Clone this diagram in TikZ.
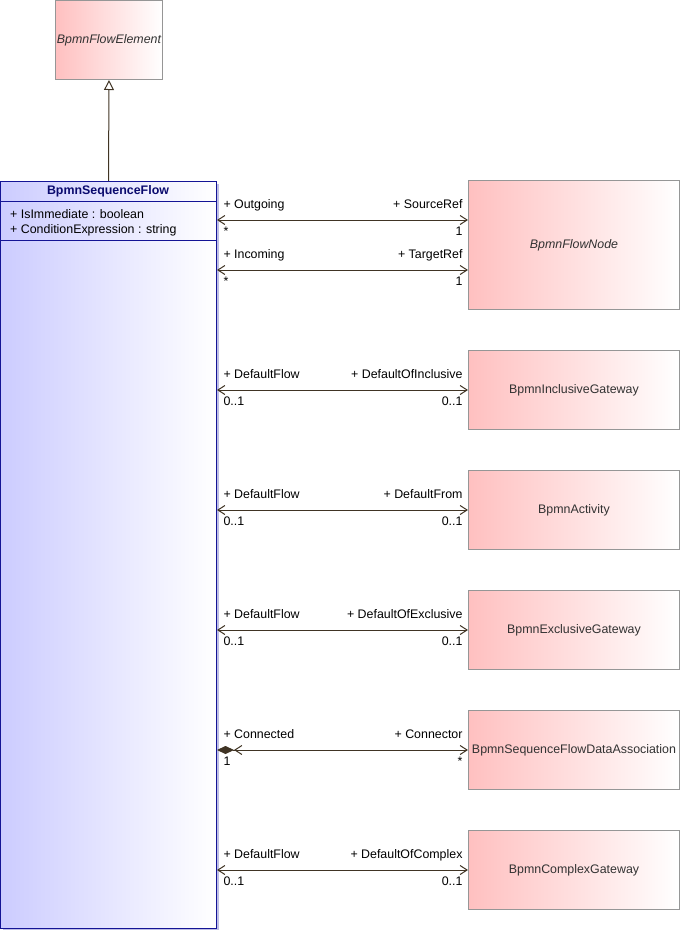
\documentclass[tikz,border=0pt]{standalone}
\usepackage{fontspec}
\setmainfont{Liberation Sans}
\usetikzlibrary{arrows.meta,calc}
\definecolor{pinkL}{RGB}{255,192,192}
\definecolor{blueL}{RGB}{204,204,255}
\definecolor{navyB}{RGB}{20,20,150}
\definecolor{grayB}{RGB}{150,150,150}
\definecolor{lineC}{RGB}{64,52,36}
\definecolor{titleC}{RGB}{10,10,110}
\definecolor{shadowC}{RGB}{190,190,230}
\definecolor{nameC}{RGB}{50,50,50}
\newcommand\assocline[6]{%
  \draw[assoc] (seq.east |- 0,#1) -- (#2.west |- 0,#1)
    node[lbl, pos=0, anchor=base west, xshift=6pt, yshift=11.5pt] {#3}
    node[lbl, pos=0, anchor=base west, xshift=6pt, yshift=-15.5pt] {#4}
    node[lbl, pos=1, anchor=base east, xshift=-5pt, yshift=11.5pt] {#5}
    node[lbl, pos=1, anchor=base east, xshift=-5pt, yshift=-15.5pt] {#6};}
\begin{document}
\begin{tikzpicture}[x=1pt,y=-1pt,
  font=\fontsize{12.4}{14}\selectfont,
  pinkbox/.style={draw=grayB, line width=1pt, left color=pinkL, right color=white,
    anchor=north west, inner sep=0pt, minimum width=211pt, minimum height=79pt, text=nameC},
  tipb/.tip={Straight Barb[length=7pt,width=9pt]},
  assoc/.style={draw=lineC, line width=1pt, tipb-tipb},
  lbl/.style={inner sep=0pt, text=black},
]
\useasboundingbox (0,0) rectangle (680,930);
% generalization parent
\node[pinkbox, minimum width=107pt, font=\fontsize{12.4}{14}\selectfont\itshape] (fe) at (55,0) {BpmnFlowElement};
% main class
\fill[shadowC] (3,184) rectangle (219,930);
\node[draw=navyB, line width=1pt, left color=blueL, right color=white, anchor=north west,
  minimum width=216pt, minimum height=747pt, inner sep=0pt] (seq) at (0,181) {};
\draw[navyB, line width=1pt] (seq.west |- 0,201) -- (seq.east |- 0,201);
\draw[navyB, line width=1pt] (seq.west |- 0,240) -- (seq.east |- 0,240);
\node[lbl, anchor=base, text=titleC, font=\fontsize{12.4}{14}\selectfont\bfseries] (seqtitle) at (108,194.5) {BpmnSequenceFlow};
\node[lbl, anchor=base west] (attr1) at (10,218) {+ IsImmediate : boolean};
\node[lbl, anchor=base west] (attr2) at (10,233.5) {+ ConditionExpression : string};
\draw[draw=lineC, line width=1pt, -{Triangle[open, fill=white, length=10pt, width=10pt]}] (seq.north) -- (fe.south);
% targets
\node[pinkbox, minimum height=129pt, font=\fontsize{12.4}{14}\selectfont\itshape] (fn) at (468,180) {BpmnFlowNode};
\node[pinkbox] (ig) at (468,350) {BpmnInclusiveGateway};
\node[pinkbox] (act) at (468,470) {BpmnActivity};
\node[pinkbox] (eg) at (468,590) {BpmnExclusiveGateway};
\node[pinkbox] (sfda) at (468,710) {BpmnSequenceFlowDataAssociation};
\node[pinkbox] (cg) at (468,830) {BpmnComplexGateway};
% associations
\assocline{220}{fn}{+ Outgoing}{*}{+ SourceRef}{1}
\assocline{270}{fn}{+ Incoming}{*}{+ TargetRef}{1}
\assocline{390}{ig}{+ DefaultFlow}{0..1}{+ DefaultOfInclusive}{0..1}
\assocline{510}{act}{+ DefaultFlow}{0..1}{+ DefaultFrom}{0..1}
\assocline{630}{eg}{+ DefaultFlow}{0..1}{+ DefaultOfExclusive}{0..1}
\draw[draw=lineC, line width=1pt, {Diamond[length=17pt,width=8pt,fill=lineC] tipb}-tipb]
  (seq.east |- 0,750) -- (sfda.west |- 0,750)
    node[lbl, pos=0, anchor=base west, xshift=6pt, yshift=11.5pt] {+ Connected}
    node[lbl, pos=0, anchor=base west, xshift=6pt, yshift=-15.5pt] {1}
    node[lbl, pos=1, anchor=base east, xshift=-5pt, yshift=11.5pt] {+ Connector}
    node[lbl, pos=1, anchor=base east, xshift=-5pt, yshift=-15.5pt] {*};
\assocline{870}{cg}{+ DefaultFlow}{0..1}{+ DefaultOfComplex}{0..1}
\end{tikzpicture}
\end{document}
